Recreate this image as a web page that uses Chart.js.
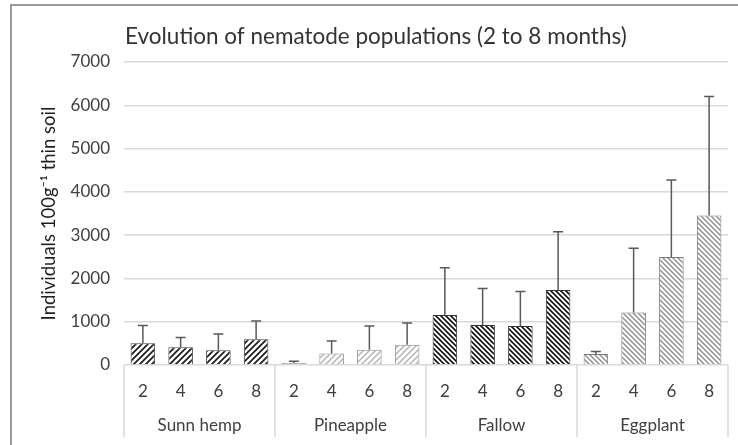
<!DOCTYPE html>
<html>
<head>
<meta charset="utf-8">
<script src="https://cdn.jsdelivr.net/npm/chart.js@4.4.1/dist/chart.umd.min.js"></script>
<style>
html, body { margin: 0; padding: 0; background: #fff; }
#wrap { width: 738px; height: 445px; }
</style>
</head>
<body>
<div id="wrap"><canvas id="chart" width="738" height="445"></canvas></div>
<script>
// months after planting, repeated for each crop
const months = ["2", "4", "6", "8"];
const groups = ["Sunn hemp", "Pineapple", "Fallow", "Eggplant"];

// means and upper error
const sunnHemp = [500, 410, 340, 595];
const sunnHempErr = [415, 225, 375, 420];
const pineapple = [45, 265, 355, 470];
const pineappleErr = [40, 290, 545, 500];
const fallow = [1155, 925, 900, 1730];
const fallowErr = [1090, 845, 800, 1350];
const eggplant = [255, 1215, 2495, 3455];
const eggplantErr = [55, 1480, 1780, 2750];

const yTicks = [0, 1000, 2000, 3000, 4000, 5000, 6000, 7000];

const values = [].concat(sunnHemp, pineapple, fallow, eggplant);
const errors = [].concat(sunnHempErr, pineappleErr, fallowErr, eggplantErr);
const labels = [].concat(months, months, months, months);

const canvas = document.getElementById("chart");
const ctx = canvas.getContext("2d");

// diagonal hatch fill, dir 1 = "/", -1 = "\"
function hatch(color, size, lw, dir) {
	const c = document.createElement("canvas");
	c.width = c.height = size;
	const g = c.getContext("2d");
	g.fillStyle = "#fff";
	g.fillRect(0, 0, size, size);
	g.strokeStyle = color;
	g.lineWidth = lw;
	g.beginPath();
	if (dir > 0) {
		g.moveTo(0, size); g.lineTo(size, 0);
		g.moveTo(-size / 2, size / 2); g.lineTo(size / 2, -size / 2);
		g.moveTo(size / 2, size * 1.5); g.lineTo(size * 1.5, size / 2);
	} else {
		g.moveTo(0, 0); g.lineTo(size, size);
		g.moveTo(-size / 2, size / 2); g.lineTo(size / 2, size * 1.5);
		g.moveTo(size / 2, -size / 2); g.lineTo(size * 1.5, size / 2);
	}
	g.stroke();
	return ctx.createPattern(c, "repeat");
}

const groupFill = [
	hatch("#1a1a1a", 6, 1.7, 1),
	hatch("#b0b0b0", 6, 1.4, 1),
	hatch("#111111", 5, 1.6, -1),
	hatch("#8c8c8c", 5, 1.4, -1)
];
const groupBorder = ["#404040", "#8c8c8c", "#333333", "#7a7a7a"];

const fills = [];
const borders = [];
groups.forEach((g, i) => {
	months.forEach(() => {
		fills.push(groupFill[i]);
		borders.push(groupBorder[i]);
	});
});

const FONT = "Lato";

const framePlugin = {
	id: "frame",
	beforeDraw(chart) {
		const c = chart.ctx;
		c.save();
		c.fillStyle = "#fff";
		c.fillRect(0, 0, chart.width, chart.height);
		c.strokeStyle = "#9a9a9a";
		c.lineWidth = 2;
		c.beginPath();
		c.moveTo(11, 445);
		c.lineTo(11, 5);
		c.lineTo(738, 5);
		c.stroke();
		c.restore();
	}
};

const errorBarPlugin = {
	id: "errorBars",
	afterDatasetsDraw(chart) {
		const c = chart.ctx;
		const meta = chart.getDatasetMeta(0);
		const yScale = chart.scales.y;
		c.save();
		c.strokeStyle = "#595959";
		c.lineWidth = 1.5;
		meta.data.forEach((bar, i) => {
			const yTop = yScale.getPixelForValue(values[i] + errors[i]);
			c.beginPath();
			c.moveTo(bar.x, bar.y);
			c.lineTo(bar.x, yTop);
			c.moveTo(bar.x - 5, yTop);
			c.lineTo(bar.x + 5, yTop);
			c.stroke();
		});
		c.restore();
	}
};

const groupAxisPlugin = {
	id: "groupAxis",
	afterDraw(chart) {
		const c = chart.ctx;
		const x = chart.scales.x;
		const area = chart.chartArea;
		const bottom = 437;
		c.save();
		c.strokeStyle = "#d9d9d9";
		c.lineWidth = 1.5;
		const edges = [area.left];
		for (let i = 1; i < groups.length; i++) {
			const k = i * months.length;
			edges.push((x.getPixelForValue(k - 1) + x.getPixelForValue(k)) / 2);
		}
		edges.push(area.right);
		c.beginPath();
		edges.forEach(e => {
			c.moveTo(e, area.bottom);
			c.lineTo(e, bottom);
		});
		c.stroke();

		c.fillStyle = "#404040";
		c.font = "17px " + FONT;
		c.textAlign = "center";
		c.textBaseline = "middle";
		groups.forEach((g, i) => {
			c.fillText(g, (edges[i] + edges[i + 1]) / 2, 426);
		});

		// chart title, left aligned with the plot area
		c.font = "22.5px " + FONT;
		c.fillStyle = "#333333";
		c.textAlign = "left";
		c.textBaseline = "alphabetic";
		c.fillText("Evolution of nematode populations (2 to 8 months)", area.left + 1, 44);
		c.restore();
	}
};

new Chart(ctx, {
	type: "bar",
	data: {
		labels: labels,
		datasets: [{
			data: values,
			backgroundColor: fills,
			borderColor: borders,
			borderWidth: 1,
			barPercentage: 0.65,
			categoryPercentage: 1
		}]
	},
	options: {
		responsive: false,
		animation: false,
		devicePixelRatio: 1,
		layout: {
			padding: { left: 12, right: 10, top: 62, bottom: 0 }
		},
		plugins: {
			legend: { display: false },
			tooltip: { enabled: false }
		},
		scales: {
			y: {
				min: 0,
				max: 7000,
				afterBuildTicks: s => { s.ticks = yTicks.map(v => ({ value: v })); },
				afterFit: s => { s.width = 112; },
				ticks: {
					color: "#404040",
					font: { family: FONT, size: 17 },
					padding: 14,
					callback: v => String(v)
				},
				grid: { color: "#d9d9d9", lineWidth: 1.5, drawTicks: false },
				border: { display: false },
				title: {
					display: true,
					text: "Individuals 100g\u207B\u00B9 thin soil",
					color: "#1f1f1f",
					font: { family: FONT, size: 18.5 },
					padding: { top: 26, bottom: 0 }
				}
			},
			x: {
				afterFit: s => { s.height = 80; },
				ticks: {
					color: "#404040",
					font: { family: FONT, size: 17 },
					padding: 16,
					maxRotation: 0,
					autoSkip: false
				},
				grid: { display: false, drawTicks: false },
				border: { display: false }
			}
		}
	},
	plugins: [framePlugin, errorBarPlugin, groupAxisPlugin]
});
</script>
</body>
</html>
